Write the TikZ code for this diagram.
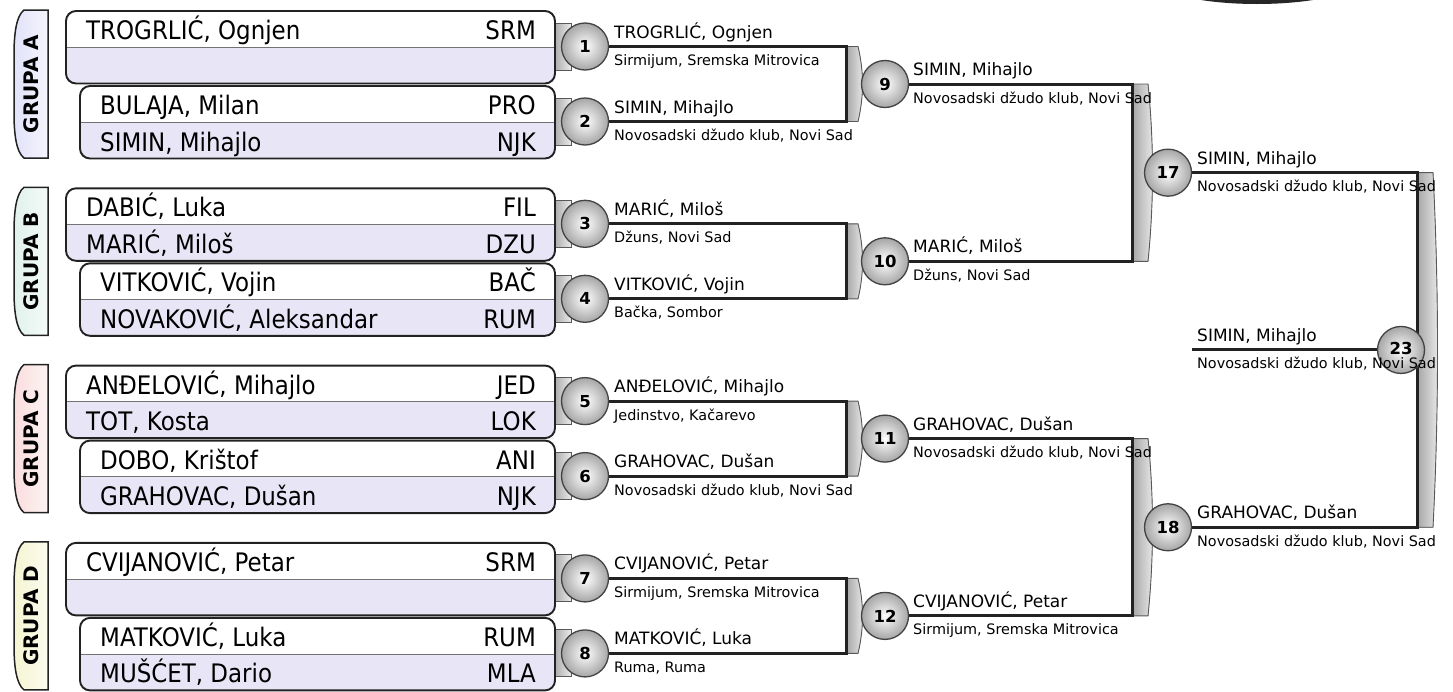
\documentclass[tikz,border=0pt]{standalone}
\usepackage{fontspec}
\setmainfont{DejaVu Sans}
\newfontfamily\condfont{DejaVu Sans}[FakeStretch=0.9]
\usetikzlibrary{calc}
\pgfdeclarelayer{bg}
\pgfsetlayers{bg,main}
\definecolor{lav}{HTML}{E8E6F6}
\definecolor{tabA}{HTML}{E2E2FA}
\definecolor{tabB}{HTML}{E0F2EC}
\definecolor{tabC}{HTML}{FADDDD}
\definecolor{tabD}{HTML}{F5F5D2}
\definecolor{ink}{HTML}{222222}
\tikzset{
  mnum/.style={circle, minimum size=47pt, inner sep=0pt, draw=ink!85, line width=1.3pt,
    inner color=white, outer color=black!35, font=\fontsize{16.5}{16}\selectfont\bfseries},
  wline/.style={draw=ink, line width=3pt},
  brack/.style={draw=black!65, line width=0.9pt, left color=black!35, right color=black!8},
  pname/.style={anchor=base west, font=\condfont\fontsize{25.5}{28}\selectfont, inner sep=0pt},
  pcode/.style={anchor=base east, font=\condfont\fontsize{25.5}{28}\selectfont, inner sep=0pt},
  wname/.style={anchor=base west, font=\fontsize{17}{18}\selectfont, inner sep=0pt},
  wclub/.style={anchor=base west, font=\fontsize{14.4}{16}\selectfont, inner sep=0pt},
  grp/.style={rotate=90, font=\fontsize{20}{20}\selectfont\bfseries, inner sep=0pt},
  boxline/.style={draw=ink, line width=1.9pt, rounded corners=10pt},
  tabline/.style={draw=ink, line width=1.5pt},
}
\newcommand\bracketpath[4]{%
  \filldraw[brack] (#1,#2) -- ({#1+#4},#2) .. controls ({#1+#4+6},{#2+(#3-#2)/3}) and ({#1+#4+6},{#3-(#3-#2)/3}) .. ({#1+#4},#3) -- (#1,#3) -- cycle;}
\newcommand\playerbox[3]{% left x, top y, height
  \begin{scope}
    \clip[rounded corners=10pt] (#1,#2) rectangle (555,{#2+#3});
    \fill[white] (#1,#2) rectangle (555,{#2+#3/2});
    \fill[lav] (#1,{#2+#3/2}) rectangle (555,{#2+#3});
    \draw[black!55, line width=1pt] (#1,{#2+#3/2}) -- (555,{#2+#3/2});
  \end{scope}
  \draw[boxline] (#1,#2) rectangle (555,{#2+#3});}
\begin{document}
\begin{tikzpicture}[x=1pt,y=-1pt]
\useasboundingbox (0,0) rectangle (1453,691);
\begin{pgfonlayer}{bg}
\fill[white] (0,0) rectangle (1453,691);
\end{pgfonlayer}
% partial dark shape at top right
\fill[black!85] (1257,-22) ellipse [x radius=105, y radius=26];

% groups
\foreach \g/\tc/\na/\ca/\nb/\cb/\nc/\cc/\nd/\cd [count=\i from 0] in {
  A/tabA/{TROGRLIĆ, Ognjen}/SRM/{}/{}/{BULAJA, Milan}/PRO/{SIMIN, Mihajlo}/NJK,
  B/tabB/{DABIĆ, Luka}/FIL/{MARIĆ, Miloš}/DZU/{VITKOVIĆ, Vojin}/BAČ/{NOVAKOVIĆ, Aleksandar}/RUM,
  C/tabC/{ANĐELOVIĆ, Mihajlo}/JED/{TOT, Kosta}/LOK/{DOBO, Krištof}/ANI/{GRAHOVAC, Dušan}/NJK,
  D/tabD/{CVIJANOVIĆ, Petar}/SRM/{}/{}/{MATKOVIĆ, Luka}/RUM/{MUŠĆET, Dario}/MLA}{
  \pgfmathsetmacro\T{10+177.3*\i}
  % group tab
  \filldraw[tabline, left color=\tc, right color=\tc!35!white]
    (48,\T) -- (24,\T) .. controls (16,{\T+6}) and (14,{\T+25}) .. (14,{\T+45})
    -- (14,{\T+103}) .. controls (14,{\T+123}) and (16,{\T+142}) .. (24,{\T+148})
    -- (48,{\T+148}) -- cycle;
  \node[grp] (g\g) at (31,{\T+74}) {GRUPA \g};
  % round-1 tabs
  \filldraw[brack] (553,{\T+13}) rectangle (571,{\T+60});
  \filldraw[brack] (553,{\T+88}) rectangle (571,{\T+135});
  % boxes
  \playerbox{66}{\T+1}{72.5}
  \playerbox{80}{\T+76}{72.5}
  \node[pname] (p\g a) at (86,{\T+29.5}) {\na};
  \node[pcode] (c\g a) at (536,{\T+29.5}) {\ca};
  \node[pname] (p\g b) at (86,{\T+66}) {\nb};
  \node[pcode] (c\g b) at (536,{\T+66}) {\cb};
  \node[pname] (p\g c) at (100,{\T+104.5}) {\nc};
  \node[pcode] (c\g c) at (536,{\T+104.5}) {\cc};
  \node[pname] (p\g d) at (100,{\T+141}) {\nd};
  \node[pcode] (c\g d) at (536,{\T+141}) {\cd};
}

% match circles
\foreach \n/\x/\y in {1/585/46.5, 2/585/121.5, 3/585/223.8, 4/585/298.8,
  5/585/401.1, 6/585/476.1, 7/585/578.4, 8/585/653.4,
  9/885/84, 10/885/261.3, 11/885/438.6, 12/885/615.9,
  17/1168/172.65, 18/1168/527.25}{
  \node[mnum] (m\n) at (\x,\y) {\n};
}
\node[mnum] (m23) at (1401,349.95) {\raisebox{4pt}{23}};

% connectors and brackets
\begin{pgfonlayer}{bg}
\foreach \a/\b/\ya/\yb/\x/\w in {1/2/46.5/121.5/846/12, 3/4/223.8/298.8/846/12,
  5/6/401.1/476.1/846/12, 7/8/578.4/653.4/846/12,
  9/10/84/261.3/1132/16, 11/12/438.6/615.9/1132/16, 17/18/172.65/527.25/1417/16}{
  \bracketpath{\x}{\ya}{\yb}{\w}
  \coordinate (t\a) at (\x,\ya);
  \coordinate (t\b) at (\x,\yb);
  \draw[wline] (m\a) -- (t\a) -- (t\b) -- (m\b);
}
\coordinate (fs) at (1192,349.95);
\draw[wline] (fs) -- (m23);
\end{pgfonlayer}

% winner labels
\foreach \n/\x/\y/\nm/\cl in {
  1/614/46.5/{TROGRLIĆ, Ognjen}/{Sirmijum, Sremska Mitrovica},
  2/614/121.5/{SIMIN, Mihajlo}/{Novosadski džudo klub, Novi Sad},
  3/614/223.8/{MARIĆ, Miloš}/{Džuns, Novi Sad},
  4/614/298.8/{VITKOVIĆ, Vojin}/{Bačka, Sombor},
  5/614/401.1/{ANĐELOVIĆ, Mihajlo}/{Jedinstvo, Kačarevo},
  6/614/476.1/{GRAHOVAC, Dušan}/{Novosadski džudo klub, Novi Sad},
  7/614/578.4/{CVIJANOVIĆ, Petar}/{Sirmijum, Sremska Mitrovica},
  8/614/653.4/{MATKOVIĆ, Luka}/{Ruma, Ruma},
  9/913/84/{SIMIN, Mihajlo}/{Novosadski džudo klub, Novi Sad},
  10/913/261.3/{MARIĆ, Miloš}/{Džuns, Novi Sad},
  11/913/438.6/{GRAHOVAC, Dušan}/{Novosadski džudo klub, Novi Sad},
  12/913/615.9/{CVIJANOVIĆ, Petar}/{Sirmijum, Sremska Mitrovica},
  17/1197/172.65/{SIMIN, Mihajlo}/{Novosadski džudo klub, Novi Sad},
  18/1197/527.25/{GRAHOVAC, Dušan}/{Novosadski džudo klub, Novi Sad},
  23/1197/349.95/{SIMIN, Mihajlo}/{Novosadski džudo klub, Novi Sad}}{
  \node[wname] (wn\n) at (\x,{\y-8.5}) {\nm};
  \node[wclub] (wc\n) at (\x,{\y+19}) {\cl};
}
\end{tikzpicture}
\end{document}
